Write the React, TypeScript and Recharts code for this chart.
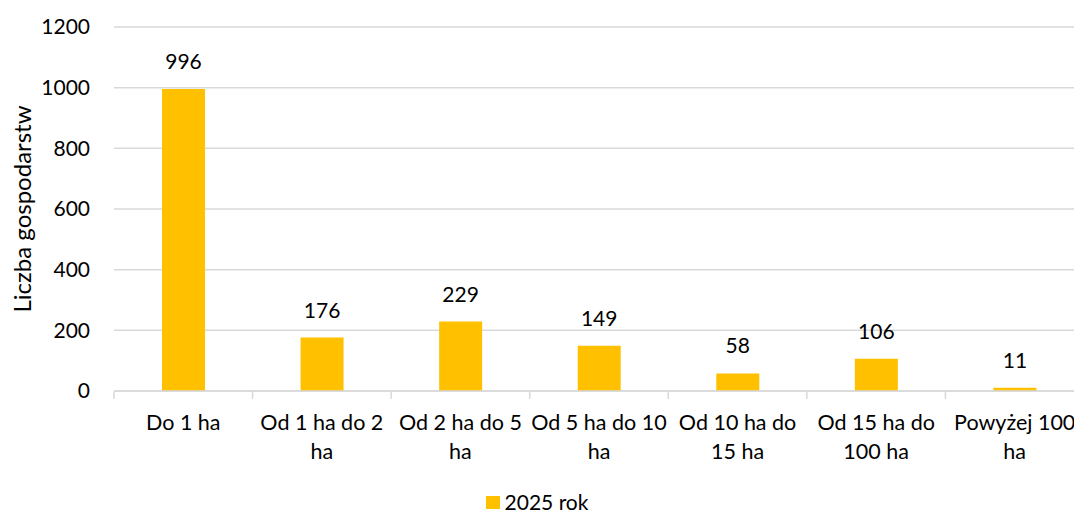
import React from "react";
import { BarChart, Bar, XAxis, YAxis, CartesianGrid, Legend, LabelList } from "recharts";

const categories = [
  "Do 1 ha",
  "Od 1 ha do 2 ha",
  "Od 2 ha do 5 ha",
  "Od 5 ha do 10 ha",
  "Od 10 ha do 15 ha",
  "Od 15 ha do 100 ha",
  "Powyżej 100 ha",
];
const tickLines: string[][] = [
  ["Do 1 ha"],
  ["Od 1 ha do 2", "ha"],
  ["Od 2 ha do 5", "ha"],
  ["Od 5 ha do 10", "ha"],
  ["Od 10 ha do", "15 ha"],
  ["Od 15 ha do", "100 ha"],
  ["Powyżej 100", "ha"],
];
const values2025 = [996, 176, 229, 149, 58, 106, 11];
const yTicks = [0, 200, 400, 600, 800, 1000, 1200];
const seriesName = "2025 rok";

const data = categories.map((c, i) => ({ name: c, v: values2025[i] }));

const FONT = "Lato, 'Open Sans', sans-serif";
const FS = 21;
const W = 1074;
const H = 513;
const CHART_W = 1084;
const LEFT = 114;
const RIGHT = 0;
const BAND = (CHART_W - LEFT - RIGHT) / categories.length;

const XTick = (props: any) => {
  const { x, y, index } = props;
  const lines = tickLines[index] || [];
  return (
    <g>
      <line x1={x - BAND / 2} x2={x - BAND / 2} y1={y - 8} y2={y} stroke="#d9d9d9" strokeWidth={1.5} />
      {index === categories.length - 1 && (
        <line x1={x + BAND / 2} x2={x + BAND / 2} y1={y - 8} y2={y} stroke="#d9d9d9" strokeWidth={1.5} />
      )}
      {lines.map((l, i) => (
        <text key={i} x={x} y={y + 31 + i * 29} textAnchor="middle" fill="#000" fontSize={FS + 0.5} fontFamily={FONT}>
          {l}
        </text>
      ))}
    </g>
  );
};

const LegendContent = () => (
  <div style={{ display: "flex", justifyContent: "center", alignItems: "center", fontFamily: FONT, fontSize: FS, color: "#000", width: W, height: 22, lineHeight: "22px" }}>
    <span style={{ display: "inline-block", width: 14, height: 13, background: "#FFC000", marginRight: 5 }} />
    <span>{seriesName}</span>
  </div>
);

export default function App() {
  return (
    <div style={{ position: "absolute", left: 0, top: 0, width: W, height: H, background: "#fff", overflow: "hidden" }}>
      <BarChart width={CHART_W} height={H} data={data} margin={{ top: 27, right: RIGHT, left: 0, bottom: 0 }} barCategoryGap={0}>
        <CartesianGrid vertical={false} stroke="#d9d9d9" strokeWidth={1.5} />
        <XAxis
          dataKey="name"
          interval={0}
          height={100}
          tick={<XTick />}
          tickLine={false}
          axisLine={{ stroke: "#d9d9d9", strokeWidth: 1.5 }}
        />
        <YAxis
          width={LEFT}
          domain={[0, 1200]}
          ticks={yTicks}
          axisLine={false}
          tickLine={false}
          tickMargin={18}
          tick={{ fill: "#000", fontSize: FS, fontFamily: FONT }}
          label={{
            value: "Liczba gospodarstw",
            angle: -90,
            position: "insideLeft",
            offset: 22,
            style: { textAnchor: "middle", fill: "#000", fontSize: 24, fontFamily: FONT },
          }}
        />
        <Legend
          verticalAlign="bottom"
          content={<LegendContent />}
          wrapperStyle={{ top: 491, left: 0, width: W, height: 22 }}
        />
        <Bar dataKey="v" name={seriesName} fill="#FFC000" barSize={43} isAnimationActive={false}>
          <LabelList dataKey="v" position="top" offset={20} fill="#000" fontSize={FS} fontFamily={FONT} />
        </Bar>
      </BarChart>
    </div>
  );
}
